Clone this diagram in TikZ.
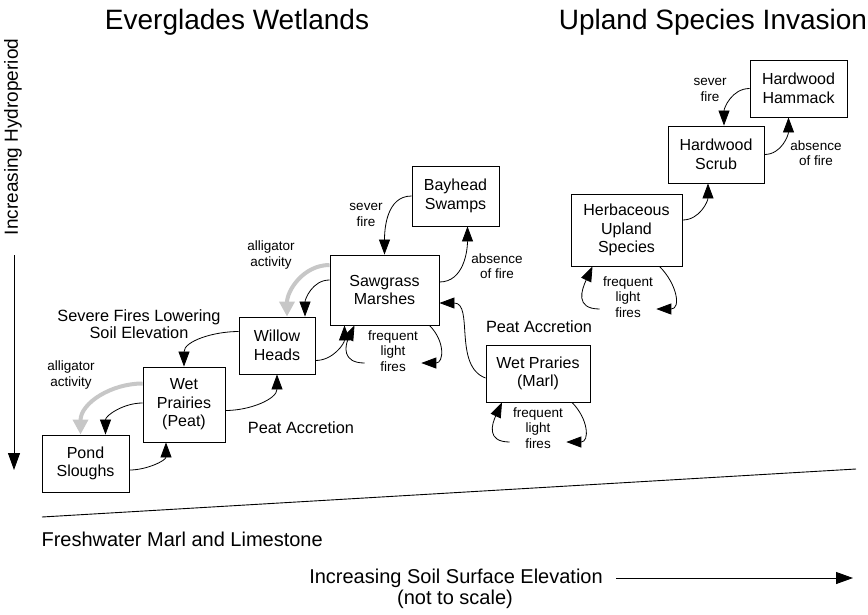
\documentclass[tikz,border=0pt]{standalone}
\usepackage{fontspec}
\setmainfont{Liberation Sans}
\usetikzlibrary{arrows.meta}

\tikzset{
    box/.style={draw, line width=0.9pt, fill=white, align=center, inner sep=2pt,
        font=\fontsize{16}{18.5}\selectfont},
    note/.style={align=center, font=\fontsize{13.5}{15.5}\selectfont},
    bignote/.style={align=center, font=\fontsize{16.3}{17.5}\selectfont},
    axisnote/.style={font=\fontsize{20}{21}\selectfont},
    flow/.style={-{Triangle[length=15pt,width=11pt]}, line width=0.8pt},
    gator/.style={-{Triangle[length=15pt,width=15pt]}, line width=4pt, black!22},
}

\begin{document}
\begin{tikzpicture}[x=1pt, y=-1pt]
    \useasboundingbox (0,0) rectangle (868,614);

    % Titulos
    \node[font=\fontsize{28}{32}\selectfont] (titlewet) at (237,22) {Everglades Wetlands};
    \node[font=\fontsize{28}{32}\selectfont] (titleup) at (713,22) {Upland Species Invasion};

    % Eje de hidroperiodo
    \node[rotate=90, font=\fontsize{19}{20}\selectfont] (hydro) at (13,137) {Increasing Hydroperiod};
    \coordinate (hydtop) at (14,255);
    \coordinate (hydbot) at (14,470);
    \draw[-{Triangle[length=17pt,width=12pt]}, line width=1pt] (hydtop) -- (hydbot);

    % Suelo de marga y caliza
    \coordinate (soilA) at (42,517);
    \coordinate (soilB) at (856,469);
    \draw[line width=0.9pt] (soilA) -- (soilB);
    \node[anchor=west, axisnote] (marl) at (38,539) {Freshwater Marl and Limestone};

    % Eje de elevacion
    \node[axisnote] (elev) at (456,578) {Increasing Soil Surface Elevation};
    \node[axisnote] (noscale) at (455,599) {(not to scale)};
    \coordinate (elevA) at (616,578);
    \coordinate (elevB) at (853,578);
    \draw[-{Triangle[length=17pt,width=12pt]}, line width=1pt] (elevA) -- (elevB);

    % Comunidades de humedal
    \node[box, minimum width=87, minimum height=57] (pond) at (85.5,463.5) {Pond\\Sloughs};
    \node[box, minimum width=82, minimum height=75] (wetpeat) at (184,404.5) {Wet\\Prairies\\(Peat)};
    \node[box, minimum width=76, minimum height=57] (willow) at (277,345.5) {Willow\\Heads};
    \node[box, minimum width=109, minimum height=70] (sawgrass) at (384.5,290) {Sawgrass\\Marshes};
    \node[box, minimum width=87, minimum height=60] (bayhead) at (455.5,196) {Bayhead\\Swamps};
    \node[box, minimum width=104, minimum height=57] (wetmarl) at (538,373.5) {Wet Praries\\(Marl)};

    % Comunidades de tierras altas
    \node[box, minimum width=111, minimum height=72] (herb) at (626.5,230) {Herbaceous\\Upland\\Species};
    \node[box, minimum width=96, minimum height=57] (scrub) at (716,154.5) {Hardwood\\Scrub};
    \node[box, minimum width=97, minimum height=57] (hammack) at (798.5,88.5) {Hardwood\\Hammack};

    % Etiquetas
    \node[bignote] (severe) at (139,324) {Severe Fires Lowering\\Soil Elevation};
    \node[note] (gatorlow) at (71,375) {alligator\\activity};
    \node[bignote] (accrlow) at (301,428) {Peat Accretion};
    \node[note] (gatorup) at (271,255) {alligator\\activity};
    \node[note] (severup) at (366,215) {sever\\fire};
    \node[note] (absbay) at (497,266) {absence\\of fire};
    \node[bignote] (accrmarl) at (539,327) {Peat Accretion};
    \node[note] (severham) at (710,90) {sever\\fire};
    \node[note] (absham) at (816,153) {absence\\of fire};
    \node[note] (firesaw) at (393,351) {frequent\\light\\fires};
    \node[note] (firemarl) at (538,428) {frequent\\light\\fires};
    \node[note] (fireherb) at (628,297) {frequent\\light\\fires};

    % Actividad de caimanes (flechas grises)
    \draw[gator] ([yshift=21]wetpeat.west) to[out=180, in=90] ([xshift=-5]pond.north);
    \draw[gator] ([yshift=25]sawgrass.west) to[out=180, in=90] ([xshift=10]willow.north);

    % Sucesion entre humedales
    \draw[flow] ([yshift=-6.5]pond.east) to[out=0, in=-90] ([xshift=-18]wetpeat.south);
    \draw[flow] ([yshift=1.5]wetpeat.west) to[out=180, in=90] ([xshift=20]pond.north);
    \draw[flow] ([yshift=-6]wetpeat.east) to[out=0, in=-90] (willow.south);
    \draw[flow] ([yshift=14]willow.west) to[out=180, in=90] (wetpeat.north);
    \draw[flow] ([yshift=-15]willow.east) to[out=0, in=-90] ([xshift=-40]sawgrass.south);
    \draw[flow] ([yshift=10]sawgrass.west) to[out=180, in=90] ([xshift=28]willow.north);
    \draw[flow] ([yshift=8]sawgrass.east) to[out=0, in=-90] ([xshift=12]bayhead.south);
    \draw[flow] (bayhead.west) to[out=180, in=90] (sawgrass.north);
    \draw[flow] ([yshift=-4.5]wetmarl.west) to[out=160, in=0] ([yshift=-13]sawgrass.east);

    % Sucesion en tierras altas
    \draw[flow] ([yshift=10]herb.east) to[out=0, in=-90] ([xshift=-8]scrub.south);
    \draw[flow] (scrub.east) to[out=0, in=-90] ([xshift=-10]hammack.south);
    \draw[flow] (hammack.west) to[out=180, in=90] ([xshift=8]scrub.north);

    % Fuegos ligeros frecuentes
    \draw[flow] ([xshift=45]sawgrass.south) to[out=-45, in=0, looseness=1.5] ([yshift=-12]firesaw.east);
    \draw[flow] ([yshift=-12]firesaw.west) to[out=180, in=-115, looseness=1.5] ([xshift=-30]sawgrass.south);
    \draw[flow] ([xshift=34]wetmarl.south) to[out=-45, in=0, looseness=1.5] ([yshift=-14]firemarl.east);
    \draw[flow] ([yshift=-14]firemarl.west) to[out=180, in=-115, looseness=1.5] ([xshift=-36]wetmarl.south);
    \draw[flow] ([xshift=33]herb.south) to[out=-45, in=0, looseness=1.5] ([yshift=-12]fireherb.east);
    \draw[flow] ([yshift=-12]fireherb.west) to[out=180, in=-115, looseness=1.5] ([xshift=-34]herb.south);

\end{tikzpicture}
\end{document}
